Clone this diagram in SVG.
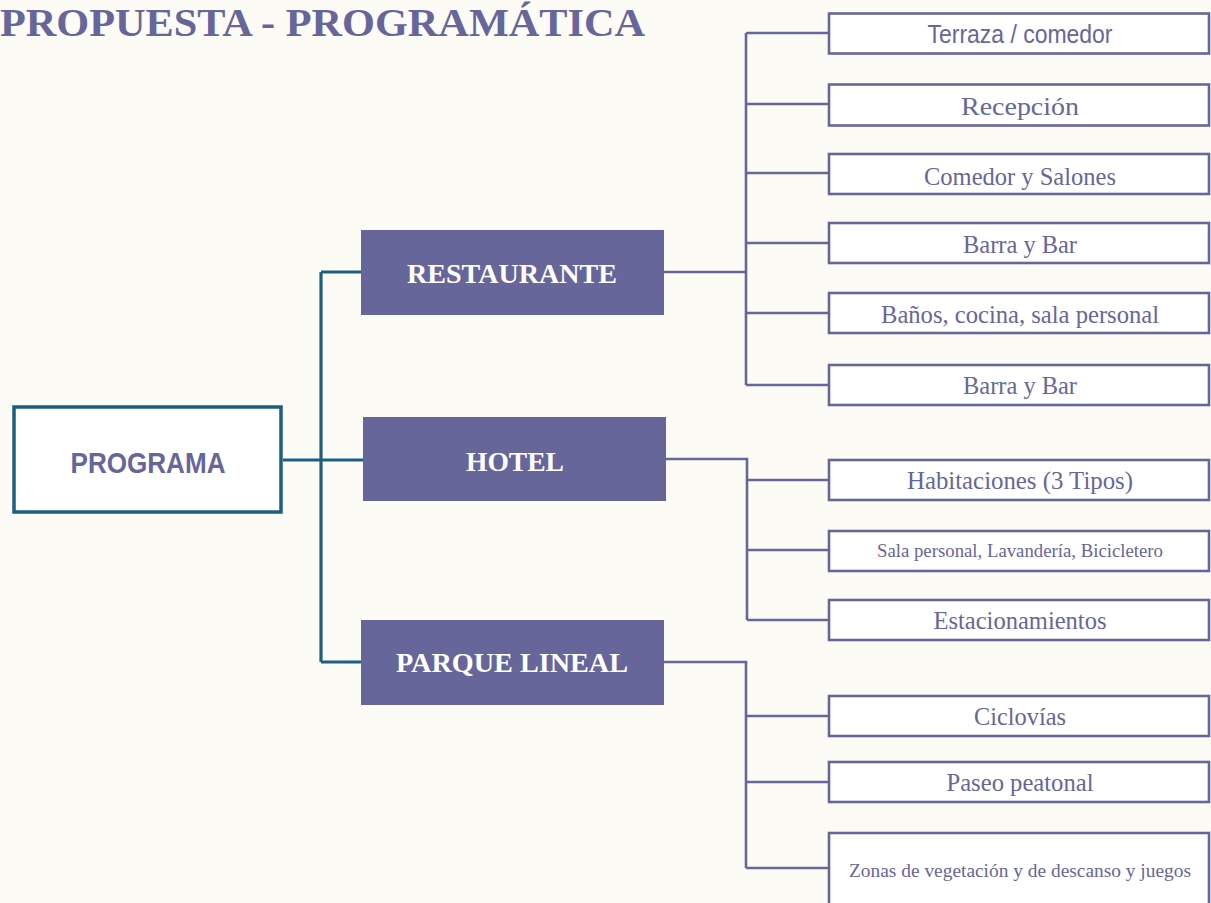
<svg xmlns="http://www.w3.org/2000/svg" width="1211" height="903" viewBox="0 0 1211 903">
<style>
.bg{fill:#fcfbf6}
.teal{fill:none;stroke:#1b6080;stroke-width:3.2}
.pl{fill:none;stroke:#67669a;stroke-width:2.6}
.leaf{fill:#ffffff;stroke:#67669a;stroke-width:2.6}
.cat{fill:#67669a}
.cattx{font-family:"Liberation Serif",serif;font-weight:bold;font-size:28px;fill:#ffffff;text-anchor:middle}
.lt{font-family:"Liberation Serif",serif;font-size:26px;fill:#67669a;text-anchor:middle}
.ls{font-family:"Liberation Sans",sans-serif;font-size:25px;fill:#67669a;text-anchor:middle}
.sm{font-family:"Liberation Serif",serif;font-size:18px;fill:#67669a;text-anchor:middle}
</style>
<rect class="bg" x="0" y="0" width="1211" height="903"/>
<text x="0" y="36" font-family="Liberation Serif, serif" font-weight="bold" font-size="41" fill="#67669a" textLength="645" lengthAdjust="spacingAndGlyphs">PROPUESTA - PROGRAMÁTICA</text>
<g id="connectors">
<path class="teal" d="M283 460H363M321 272V662M321 272H362M321 662H362"/>
<path class="pl" d="M664 272H746M746 33V385M746 33H829M746 104H829M746 173H829M746 243H829M746 313H829M746 385H829"/>
<path class="pl" d="M666 459H747V620M747 480H829M747 550H829M747 620H829"/>
<path class="pl" d="M664 662H746V868M746 716H829M746 782H829M746 868H829"/>
</g>
<g id="programa">
<rect x="14" y="407" width="267" height="105" fill="#ffffff" stroke="#1b6080" stroke-width="3.5"/>
<text x="148" y="473" font-family="Liberation Sans, sans-serif" font-weight="bold" font-size="30" fill="#67669a" text-anchor="middle" textLength="155" lengthAdjust="spacingAndGlyphs">PROGRAMA</text>
</g>
<g id="restaurante">
<rect class="cat" x="361" y="230" width="303" height="85"/>
<text class="cattx" x="512" y="283" textLength="210" lengthAdjust="spacingAndGlyphs">RESTAURANTE</text>
</g>
<g id="hotel">
<rect class="cat" x="363" y="417" width="303" height="84"/>
<text class="cattx" x="515" y="471" textLength="98" lengthAdjust="spacingAndGlyphs">HOTEL</text>
</g>
<g id="parque">
<rect class="cat" x="361" y="620" width="303" height="85"/>
<text class="cattx" x="512" y="672" textLength="232" lengthAdjust="spacingAndGlyphs">PARQUE LINEAL</text>
</g>
<g id="terraza"><rect class="leaf" x="829" y="13.5" width="380" height="40"/><text class="ls" x="1020" y="43" textLength="185" lengthAdjust="spacingAndGlyphs">Terraza / comedor</text></g>
<g id="recepcion"><rect class="leaf" x="829" y="84.5" width="380" height="41"/><text class="lt" x="1020" y="115" textLength="118" lengthAdjust="spacingAndGlyphs">Recepción</text></g>
<g id="comedor"><rect class="leaf" x="829" y="154" width="380" height="40"/><text class="lt" x="1020" y="185" textLength="192" lengthAdjust="spacingAndGlyphs">Comedor y Salones</text></g>
<g id="barra1"><rect class="leaf" x="829" y="223" width="380" height="40"/><text class="lt" x="1020" y="253" textLength="114" lengthAdjust="spacingAndGlyphs">Barra y Bar</text></g>
<g id="banos"><rect class="leaf" x="829" y="293" width="380" height="40"/><text class="lt" x="1020" y="323" textLength="278" lengthAdjust="spacingAndGlyphs">Baños, cocina, sala personal</text></g>
<g id="barra2"><rect class="leaf" x="829" y="365" width="380" height="40"/><text class="lt" x="1020" y="394" textLength="114" lengthAdjust="spacingAndGlyphs">Barra y Bar</text></g>
<g id="habitaciones"><rect class="leaf" x="829" y="460" width="380" height="40"/><text class="lt" x="1020" y="489" textLength="226" lengthAdjust="spacingAndGlyphs">Habitaciones (3 Tipos)</text></g>
<g id="sala"><rect class="leaf" x="829" y="531" width="380" height="40"/><text class="sm" x="1020" y="557" textLength="286" lengthAdjust="spacingAndGlyphs">Sala personal, Lavandería, Bicicletero</text></g>
<g id="estacionamientos"><rect class="leaf" x="829" y="600" width="380" height="40"/><text class="lt" x="1020" y="629" textLength="173" lengthAdjust="spacingAndGlyphs">Estacionamientos</text></g>
<g id="ciclovias"><rect class="leaf" x="829" y="696" width="380" height="40"/><text class="lt" x="1020" y="725" textLength="92" lengthAdjust="spacingAndGlyphs">Ciclovías</text></g>
<g id="paseo"><rect class="leaf" x="829" y="762" width="380" height="40"/><text class="lt" x="1020" y="791" textLength="147" lengthAdjust="spacingAndGlyphs">Paseo peatonal</text></g>
<g id="zonas"><rect class="leaf" x="829" y="833" width="380" height="80"/><text class="sm" x="1020" y="877" textLength="342" lengthAdjust="spacingAndGlyphs">Zonas de vegetación y de descanso y juegos</text></g>
</svg>
